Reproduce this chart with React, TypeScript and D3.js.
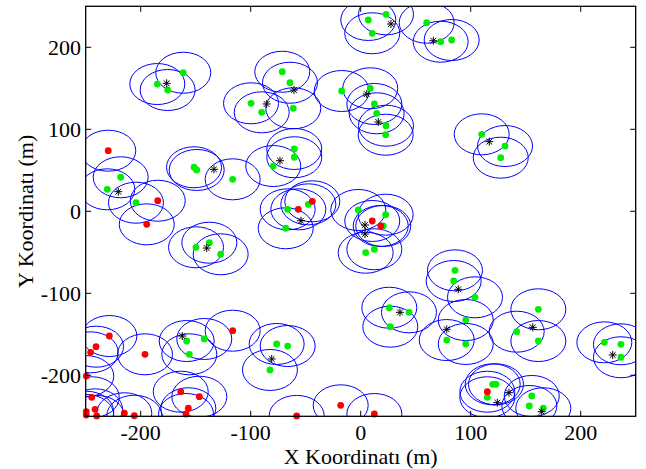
import React, { useEffect, useRef } from 'react';
import * as d3 from 'd3';

// node positions in metres
const greenNodes: [number, number][] = [
  [-184.9, 155.2], [-175.5, 147.9], [-161.3, 169.0], [-99.7, 131.7], [-90.0, 120.7],
  [6.9, 233.3], [23.0, 240.2], [10.5, 217.1], [60.0, 230.0], [72.7, 206.8], [82.7, 208.9],
  [-71.3, 170.2], [-64.3, 156.8], [-61.3, 125.6], [-17.3, 146.7], [8.7, 150.0],
  [12.4, 130.9], [14.5, 119.5], [23.0, 104.4], [22.7, 93.4],
  [110.0, 93.9], [131.2, 79.6], [127.3, 65.4], [85.7, -72.0], [84.5, -85.0],
  [-218.2, 41.5], [-230.4, 26.8], [-204.3, 10.5], [-151.5, 53.7], [-149.1, 50.4], [-116.4, 39.0],
  [-149.7, -43.9], [-137.6, -38.3], [-127.3, -52.4],
  [-60.4, 76.0], [-60.4, 65.9], [-79.5, 55.2], [-66.4, 2.4], [-47.6, 8.5], [-68.2, -20.7],
  [-2.2, 1.6], [22.7, -4.1], [20.5, -17.9], [4.5, -50.5], [12.4, -46.3],
  [-158.2, -158.2], [-142.2, -155.7], [-155.8, -174.4], [-82.5, -193.5],
  [26.0, -117.6], [43.9, -123.2], [26.9, -140.7], [78.2, -157.0],
  [-76.4, -161.8], [-66.4, -164.3], [103.9, -104.9], [95.5, -132.6], [95.5, -161.8],
  [161.5, -119.5], [141.8, -146.8], [161.5, -158.2],
  [221.5, -159.8], [236.6, -162.2], [236.6, -178.0],
  [120.0, -211.0], [123.0, -211.0], [115.1, -226.8],
  [155.5, -225.2], [153.3, -237.4], [166.0, -240.2],
];

const redNodes: [number, number][] = [
  [-229.5, 73.9], [-184.5, 12.9], [-194.5, -15.9], [-56.7, 2.4], [-44.0, 12.2],
  [10.5, -11.8], [18.2, -17.9], [-228.5, -152.1], [-240.6, -165.1], [-245.5, -172.0],
  [-196.1, -174.4], [-116.4, -145.6], [-249.5, -201.0], [-244.5, -226.8],
  [-249.5, -244.4], [-249.5, -248.4], [-241.5, -241.5], [-240.0, -249.5],
  [-214.9, -246.3], [-205.8, -249.3], [-163.6, -220.0], [-146.7, -226.1],
  [-156.7, -240.2], [-158.8, -247.2], [-58.2, -249.5], [-18.2, -236.6],
  [12.4, -247.2], [115.1, -220.0],
];

const clusterHeads: [number, number][] = [
  [-176.4, 156.1], [-85.5, 130.9], [27.5, 228.4], [66.0, 208.0], [-60.6, 147.9],
  [5.5, 143.0], [16.0, 108.9], [116.9, 84.9], [-220.4, 23.9], [-133.4, 51.2],
  [-140.0, -44.8], [-73.4, 61.7], [-54.3, -11.5], [3.9, -16.7], [3.9, -27.7],
  [-162.2, -152.1], [35.7, -123.2], [78.2, -143.9], [-80.9, -180.1], [88.7, -95.1],
  [156.4, -141.5], [229.1, -175.2], [134.8, -221.2], [124.2, -233.4], [164.5, -244.4],
];

const tickValues = [-200, -100, 0, 100, 200];
const range = 25;

const App = () => {
  const svgRef = useRef<SVGSVGElement>(null);

  useEffect(() => {
    const svg = d3.select(svgRef.current);
    svg.selectAll('*').remove();

    const left = 85.7, right = 635.7, top = 6.3, bottom = 416.3;
    const x = d3.scaleLinear().domain([-250, 250]).range([left, right]);
    const y = d3.scaleLinear().domain([-250, 250]).range([bottom, top]);
    const font = '"Liberation Serif", "Times New Roman", serif';

    svg.append('defs').append('clipPath').attr('id', 'plotClip')
      .append('rect')
      .attr('x', left).attr('y', top)
      .attr('width', right - left).attr('height', bottom - top);

    const rx = x(range) - x(0);
    const ry = y(0) - y(range);
    const allNodes = greenNodes.concat(redNodes);

    svg.append('g')
      .attr('clip-path', 'url(#plotClip)')
      .selectAll('ellipse')
      .data(allNodes)
      .enter().append('ellipse')
      .attr('cx', d => x(d[0]))
      .attr('cy', d => y(d[1]))
      .attr('rx', rx)
      .attr('ry', ry)
      .attr('fill', 'none')
      .attr('stroke', '#0000ff')
      .attr('stroke-width', 1);

    svg.append('g').selectAll('circle')
      .data(greenNodes)
      .enter().append('circle')
      .attr('cx', d => x(d[0]))
      .attr('cy', d => y(d[1]))
      .attr('r', 3.4)
      .attr('fill', '#00ee00');

    svg.append('g').selectAll('circle')
      .data(redNodes)
      .enter().append('circle')
      .attr('cx', d => x(d[0]))
      .attr('cy', d => y(d[1]))
      .attr('r', 3.4)
      .attr('fill', '#ff0000');

    const s = 4, t = 2.9;
    svg.append('g').selectAll('path')
      .data(clusterHeads)
      .enter().append('path')
      .attr('transform', d => `translate(${x(d[0])},${y(d[1])})`)
      .attr('d', `M${-s},0H${s}M0,${-s}V${s}M${-t},${-t}L${t},${t}M${-t},${t}L${t},${-t}`)
      .attr('stroke', '#000')
      .attr('stroke-width', 1)
      .attr('fill', 'none');

    // axes box with inward ticks on all sides
    const tick = 5.5;
    svg.append('rect')
      .attr('x', left).attr('y', top)
      .attr('width', right - left).attr('height', bottom - top)
      .attr('fill', 'none')
      .attr('stroke', '#000')
      .attr('stroke-width', 1.3);

    const ticks = svg.append('g').attr('stroke', '#000').attr('stroke-width', 1);
    tickValues.forEach(v => {
      ticks.append('line').attr('x1', x(v)).attr('x2', x(v)).attr('y1', bottom).attr('y2', bottom - tick);
      ticks.append('line').attr('x1', x(v)).attr('x2', x(v)).attr('y1', top).attr('y2', top + tick);
      ticks.append('line').attr('y1', y(v)).attr('y2', y(v)).attr('x1', left).attr('x2', left + tick);
      ticks.append('line').attr('y1', y(v)).attr('y2', y(v)).attr('x1', right).attr('x2', right - tick);
    });

    svg.append('g').selectAll('text')
      .data(tickValues)
      .enter().append('text')
      .attr('x', d => x(d))
      .attr('y', 440)
      .attr('text-anchor', 'middle')
      .style('font-family', font)
      .style('font-size', '22px')
      .text(d => String(d));

    svg.append('g').selectAll('text')
      .data(tickValues)
      .enter().append('text')
      .attr('x', 81)
      .attr('y', d => y(d))
      .attr('dy', '0.35em')
      .attr('text-anchor', 'end')
      .style('font-family', font)
      .style('font-size', '22px')
      .text(d => String(d));

    svg.append('text')
      .attr('x', (left + right) / 2)
      .attr('y', 464)
      .attr('text-anchor', 'middle')
      .style('font-family', font)
      .style('font-size', '22px')
      .text('X Koordinatı (m)');

    svg.append('text')
      .attr('transform', `translate(33,${(top + bottom) / 2}) rotate(-90)`)
      .attr('text-anchor', 'middle')
      .style('font-family', font)
      .style('font-size', '22px')
      .text('Y Koordinatı (m)');
  }, []);

  return (
    <svg
      ref={svgRef}
      width={646}
      height={469}
      style={{ position: 'absolute', left: 0, top: 0, background: '#fff' }}
    />
  );
};

export default App;
